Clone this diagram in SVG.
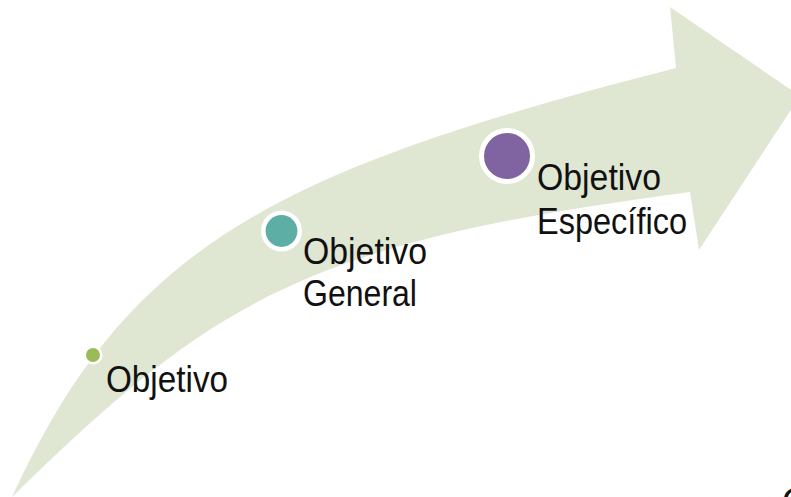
<svg xmlns="http://www.w3.org/2000/svg" width="791" height="497" viewBox="0 0 791 497">
  <style>
    .arrow { fill: #dfe7d3; stroke: none; }
    .dot { stroke: #ffffff; }
    .lbl { font-family: "Liberation Sans", Arial, sans-serif; font-size: 37px; fill: #111111; }
  </style>
  <rect width="791" height="497" fill="#ffffff"/>
  <g id="arrow">
    <path class="arrow" d="M12,497 C127,247 270,172 676,68 L670,7 L800,96 L699,250 L690,192 C310,242 216,297 12,497 Z"/>
  </g>
  <g id="connectors"></g>
  <g id="node-objetivo">
    <circle class="dot" cx="93" cy="355" r="8.3" fill="#9bbb59" stroke-width="2.6"/>
    <text class="lbl" x="106" y="392" textLength="122" lengthAdjust="spacingAndGlyphs">Objetivo</text>
  </g>
  <g id="node-objetivo-general">
    <circle class="dot" cx="281.5" cy="231" r="18.2" fill="#5dafa6" stroke-width="4.6"/>
    <text class="lbl" x="303" y="264" textLength="124" lengthAdjust="spacingAndGlyphs">Objetivo</text>
    <text class="lbl" x="303" y="306" textLength="114" lengthAdjust="spacingAndGlyphs">General</text>
  </g>
  <g id="node-objetivo-especifico">
    <circle class="dot" cx="507" cy="156" r="25.5" fill="#8064a2" stroke-width="5"/>
    <text class="lbl" x="537" y="190" textLength="124" lengthAdjust="spacingAndGlyphs">Objetivo</text>
    <text class="lbl" x="537" y="234" textLength="150" lengthAdjust="spacingAndGlyphs">Específico</text>
  </g>
  <g id="fragment">
    <text class="lbl" x="782" y="514">O</text>
  </g>
</svg>
